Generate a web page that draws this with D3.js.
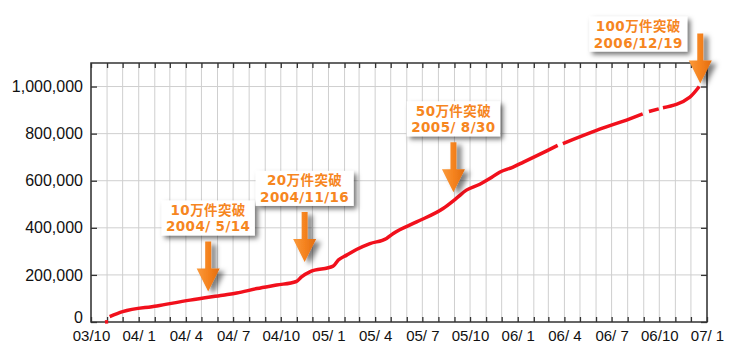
<!DOCTYPE html>
<html>
<head>
<meta charset="utf-8">
<script src="https://cdn.jsdelivr.net/npm/d3@7"></script>
<style>
  body { margin: 0; background: #fff; }
  svg { display: block; }
  .axis text { font-family: "Liberation Sans", Arial, sans-serif; fill: #111; white-space: pre; }
  .callout text { font-family: "DejaVu Sans", "Noto Sans CJK JP", sans-serif; font-weight: bold;
                  font-size: 13.5px; letter-spacing: 0.4px; fill: #f6861f; white-space: pre; }
</style>
</head>
<body>
<div id="chart"></div>
<script>
// Cumulative count over time (null = break in the record)
const dates = [
  '2003-10-28', '2003-11-03', '2003-11-05', '2003-11-06', '2003-12-01', '2004-02-05', '2004-04-09',
  '2004-06-11', '2004-07-08', '2004-08-16', '2004-09-23', '2004-10-31', '2004-11-10', '2004-11-26',
  '2005-01-10', '2005-01-20', '2005-02-05', '2005-02-24', '2005-03-22', '2005-04-23', '2005-05-06',
  '2005-06-20', '2005-08-10', '2005-09-05', '2005-09-24', '2005-10-20', '2005-11-08', '2005-11-27',
  '2005-12-23', '2006-01-12', '2006-02-25', '2006-03-19', '2006-03-24', '2006-03-29', '2006-06-02',
  '2006-08-05', '2006-08-30', '2006-09-05', '2006-09-11', '2006-09-30', '2006-10-04', '2006-10-08',
  '2006-11-29', '2006-12-17'
];
const totals = [
  0, 1500, null, 23000, 44000, 68000, 93000,
  114000, 123000, 142000, 157000, 172000, 192000, 213000,
  237000, 263000, 284000, 308000, 333000, 355000, 376000,
  425000, 482000, 526000, 560000, 585000, 609000, 636000,
  658000, 679000, 726000, 750000, null, 758000, 814000,
  863000, 884000, null, 894000, 905000, null, 910000,
  955000, 1000000
];

// Milestones
const milestoneLabels = ['10万件突破', '20万件突破', '50万件突破', '100万件突破'];
const milestoneDates = ['2004/ 5/14', '2004/11/16', '2005/ 8/30', '2006/12/19'];
const milestoneValues = [100000, 200000, 500000, 1000000];

// Axes
const xDomain = ['2003-10-01', '2007-01-01'];
const yDomain = [0, 1100000];
const yTicks = [0, 200000, 400000, 600000, 800000, 1000000];

// Where each callout sits relative to its point
const calloutLayout = [
  { gap: 7, side: 'above' },
  { gap: 13, side: 'above' },
  { gap: 12, side: 'above' },
  { gap: 3, side: 'left' }
];

const width = 733, height = 353;
const margin = { top: 63, right: 26, bottom: 31, left: 91 };

const parse = d3.timeParse('%Y-%m-%d');
const parseSlash = s => d3.timeParse('%Y/%m/%d')(s.replace(/ /g, ''));
const data = dates.map((d, i) => ({ date: parse(d), value: totals[i] }));

const x = d3.scaleTime().domain(xDomain.map(parse)).range([margin.left, width - margin.right]);
const y = d3.scaleLinear().domain(yDomain).range([height - margin.bottom, margin.top]);

const svg = d3.select('#chart').append('svg')
  .attr('width', width)
  .attr('height', height);

// filters and gradient
const defs = svg.append('defs');
defs.append('filter').attr('id', 'boxShadow')
  .attr('x', '-30%').attr('y', '-40%').attr('width', '170%').attr('height', '190%')
  .append('feDropShadow')
  .attr('dx', 3).attr('dy', 3).attr('stdDeviation', 2.5)
  .attr('flood-color', '#000').attr('flood-opacity', 0.55);
defs.append('filter').attr('id', 'arrowShadow')
  .attr('x', '-60%').attr('y', '-30%').attr('width', '250%').attr('height', '170%')
  .append('feDropShadow')
  .attr('dx', 5).attr('dy', 3).attr('stdDeviation', 2.5)
  .attr('flood-color', '#000').attr('flood-opacity', 0.5);
const grad = defs.append('linearGradient').attr('id', 'arrowFill')
  .attr('x1', 0).attr('x2', 1).attr('y1', 0).attr('y2', 0);
grad.append('stop').attr('offset', 0).attr('stop-color', '#fa9a3c');
grad.append('stop').attr('offset', 0.5).attr('stop-color', '#f5831f');
grad.append('stop').attr('offset', 1).attr('stop-color', '#e26d10');

const months = x.ticks(d3.timeMonth.every(1));
const x0 = margin.left, x1 = width - margin.right;
const y0 = height - margin.bottom, y1 = margin.top;

// grid
svg.append('g')
  .selectAll('line')
  .data(months)
  .join('line')
  .attr('x1', d => x(d)).attr('x2', d => x(d))
  .attr('y1', y0).attr('y2', y1)
  .attr('stroke', '#cfcfcf').attr('stroke-width', 1);
svg.append('g')
  .selectAll('line')
  .data(yTicks.slice(1))
  .join('line')
  .attr('x1', x0).attr('x2', x1)
  .attr('y1', d => y(d)).attr('y2', d => y(d))
  .attr('stroke', '#cfcfcf').attr('stroke-width', 1);

// axes (ticks point inward)
const fmt = d3.timeFormat('%y/%_m');
const bottom = svg.append('g').attr('class', 'axis')
  .attr('transform', `translate(0,${y0})`)
  .call(d3.axisBottom(x).tickValues(months).tickSize(-5).tickPadding(8)
    .tickFormat(d => d.getMonth() % 3 === 0 ? fmt(d) : ''));
bottom.selectAll('text').style('font-size', '15px');

svg.append('g').attr('class', 'axis')
  .attr('transform', `translate(0,${y1})`)
  .call(d3.axisTop(x).tickValues(months).tickSize(-5).tickFormat(''));

const left = svg.append('g').attr('class', 'axis')
  .attr('transform', `translate(${x0},0)`)
  .call(d3.axisLeft(y).tickValues(yTicks).tickSize(-6).tickPadding(8).tickFormat(d3.format(',')));
left.selectAll('text').style('font-size', '16px');
// the zero label sits a little higher so it clears the date labels
left.selectAll('.tick text').filter(d => d === 0).attr('dy', '0.05em');

svg.append('g').attr('class', 'axis')
  .attr('transform', `translate(${x1},0)`)
  .call(d3.axisRight(y).tickValues(yTicks).tickSize(-6).tickFormat(''));

svg.selectAll('.axis .domain').remove();
svg.selectAll('.axis .tick line').attr('stroke', '#333').attr('stroke-width', 1.3);

// frame
svg.append('rect')
  .attr('x', x0).attr('y', y1)
  .attr('width', x1 - x0).attr('height', y0 - y1)
  .attr('fill', 'none').attr('stroke', '#333').attr('stroke-width', 1.5);

// the line
const line = d3.line()
  .defined(d => d.value != null)
  .x(d => x(d.date))
  .y(d => y(d.value))
  .curve(d3.curveMonotoneX);

svg.append('path')
  .datum(data)
  .attr('d', line)
  .attr('fill', 'none')
  .attr('stroke', '#f1101c')
  .attr('stroke-width', 3.5)
  .attr('stroke-linejoin', 'round')
  .attr('stroke-linecap', 'butt');

// callouts
const arrowLen = 50, headH = 23, headW = 11.5, shaftW = 3;
function arrowPath(cx, tip) {
  const top = tip - arrowLen, neck = tip - headH;
  return `M${cx - shaftW},${top}L${cx + shaftW},${top}L${cx + shaftW},${neck}L${cx + headW},${neck}` +
         `L${cx},${tip}L${cx - headW},${neck}L${cx - shaftW},${neck}Z`;
}

milestoneLabels.forEach((label, i) => {
  const lay = calloutLayout[i];
  const cx = x(parseSlash(milestoneDates[i]));
  const tip = y(milestoneValues[i]) - lay.gap;
  const arrowTop = tip - arrowLen;

  const g = svg.append('g').attr('class', 'callout');
  const box = g.append('rect').attr('fill', '#fff').attr('filter', 'url(#boxShadow)');
  const t1 = g.append('text').attr('text-anchor', 'middle').text(label);
  const t2 = g.append('text').attr('text-anchor', 'middle').text(milestoneDates[i]);

  const w = Math.max(t1.node().getComputedTextLength(), t2.node().getComputedTextLength()) + 9;
  const h = 35;
  const bx = lay.side === 'left' ? cx - 62 : cx;
  const by = lay.side === 'left' ? arrowTop - 17 : arrowTop - 6 - h;

  box.attr('x', bx - w / 2).attr('y', by).attr('width', w).attr('height', h);
  t1.attr('x', bx).attr('y', by + 14.5);
  t2.attr('x', bx).attr('y', by + 31);

  svg.append('path')
    .attr('d', arrowPath(cx, tip))
    .attr('fill', 'url(#arrowFill)')
    .attr('filter', 'url(#arrowShadow)');
});
</script>
</body>
</html>
